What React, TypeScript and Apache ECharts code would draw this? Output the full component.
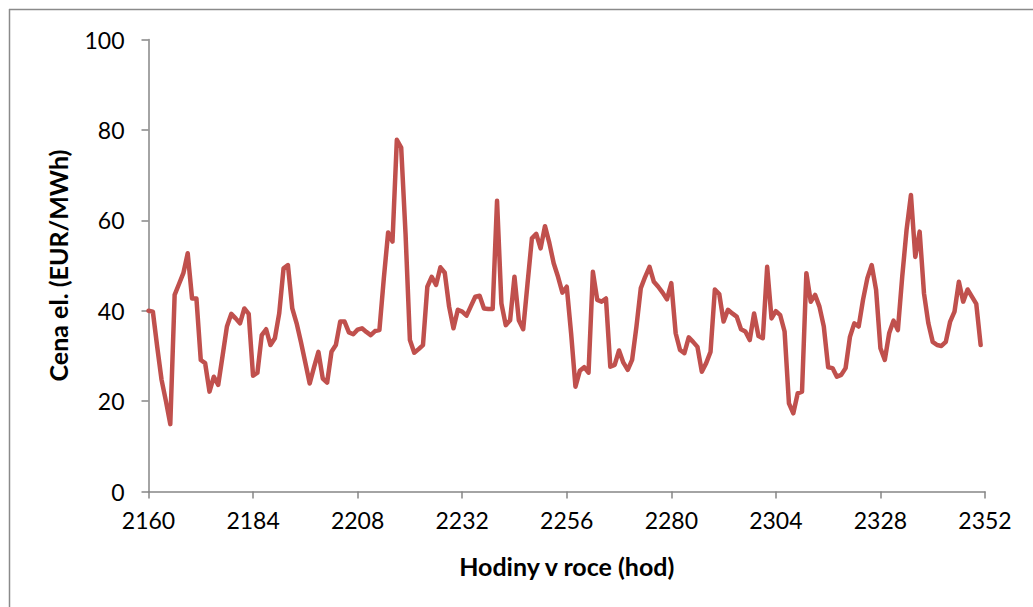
import React, { useEffect, useRef } from "react";
import * as echarts from "echarts";

// Hourly electricity price, hours 2160–2351 of the year (EUR/MWh)
const START_HOUR = 2160;
const prices: number[] = [
  40.0, 39.8, 32.0, 24.7, 20.0, 14.9, 43.5, 45.9, 48.3, 52.7, // 2160
  42.7, 42.7, 29.1, 28.4, 22.1, 25.4, 23.6, 30.0, 36.5, 39.3, // 2170
  38.3, 37.2, 40.5, 39.3, 25.6, 26.3, 34.6, 35.9, 32.4, 33.9, // 2180
  39.4, 49.4, 50.1, 40.5, 37.2, 33.0, 28.5, 23.9, 27.5, 30.9, // 2190
  25.0, 24.1, 30.9, 32.4, 37.6, 37.6, 35.2, 34.8, 35.8, 36.1, // 2200
  35.3, 34.6, 35.5, 35.7, 47.0, 57.3, 55.3, 77.8, 76.1, 57.0, // 2210
  33.5, 30.7, 31.5, 32.4, 45.3, 47.5, 45.7, 49.6, 48.4, 40.9, // 2220
  36.1, 40.2, 39.8, 38.9, 41.0, 43.1, 43.3, 40.5, 40.4, 40.4, // 2230
  64.3, 41.6, 36.8, 37.9, 47.5, 37.9, 35.9, 46.0, 56.0, 57.0, // 2240
  53.8, 58.7, 55.0, 50.5, 47.5, 44.0, 45.3, 35.0, 23.2, 26.7, // 2250
  27.5, 26.3, 48.6, 42.4, 42.0, 42.7, 27.6, 28.0, 31.2, 28.5, // 2260
  26.9, 29.1, 36.5, 45.0, 47.5, 49.7, 46.4, 45.3, 44.0, 42.5, // 2270
  46.1, 35.0, 31.3, 30.6, 34.1, 33.1, 32.0, 26.5, 28.4, 30.9, // 2280
  44.7, 43.7, 37.6, 40.2, 39.4, 38.7, 35.9, 35.4, 33.5, 39.4, // 2290
  34.4, 33.9, 49.7, 38.3, 39.9, 39.0, 35.4, 19.5, 17.3, 21.7, // 2300
  22.1, 48.3, 42.0, 43.5, 40.9, 36.5, 27.5, 27.3, 25.4, 25.8, // 2310
  27.3, 34.2, 37.2, 36.5, 42.4, 47.2, 50.1, 44.6, 31.7, 29.1, // 2320
  35.0, 37.8, 35.7, 47.5, 57.9, 65.6, 51.9, 57.5, 43.8, 37.2, // 2330
  33.1, 32.4, 32.2, 33.1, 37.6, 39.8, 46.4, 42.0, 44.7, 43.1, // 2340
  41.5, 32.4,                                                 // 2350
];

const X_MIN = 2160;
const X_MAX = 2352;
const X_STEP = 24;
const Y_MIN = 0;
const Y_MAX = 100;
const Y_STEP = 20;

const X_TITLE = "Hodiny v roce (hod)";
const Y_TITLE = "Cena el. (EUR/MWh)";

const FONT = "Lato, 'Open Sans', sans-serif";
const AXIS_GRAY = "#868686";
const LINE_RED = "#C0504D";

export default function App() {
  const ref = useRef<HTMLDivElement>(null);

  useEffect(() => {
    if (!ref.current) return;
    const chart = echarts.init(ref.current, undefined, { renderer: "svg" });
    const points = prices.map((v, i) => [START_HOUR + i, v]);

    chart.setOption({
      animation: false,
      backgroundColor: "#ffffff",
      grid: { left: 148.5, right: 48, top: 39.5, bottom: 115.5, containLabel: false },
      xAxis: {
        type: "value",
        min: X_MIN,
        max: X_MAX,
        interval: X_STEP,
        name: X_TITLE,
        nameLocation: "middle",
        nameGap: 62,
        nameTextStyle: { fontFamily: FONT, fontWeight: "bold", fontSize: 25, color: "#000" },
        axisLine: { show: true, lineStyle: { color: AXIS_GRAY, width: 1.5 } },
        axisTick: { show: true, inside: false, length: 7, lineStyle: { color: AXIS_GRAY, width: 1.5 } },
        axisLabel: {
          fontFamily: FONT,
          fontSize: 23,
          color: "#000",
          margin: 17,
          formatter: (v: number) => String(v),
        },
        splitLine: { show: false },
      },
      yAxis: {
        type: "value",
        min: Y_MIN,
        max: Y_MAX,
        interval: Y_STEP,
        name: Y_TITLE,
        nameLocation: "middle",
        nameRotate: 90,
        nameGap: 78,
        nameTextStyle: { fontFamily: FONT, fontWeight: "bold", fontSize: 25, color: "#000" },
        axisLine: { show: true, lineStyle: { color: AXIS_GRAY, width: 1.5 } },
        axisTick: { show: true, inside: false, length: 7, lineStyle: { color: AXIS_GRAY, width: 1.5 } },
        axisLabel: { fontFamily: FONT, fontSize: 23, color: "#000", margin: 24 },
        splitLine: { show: false },
      },
      graphic: [
        {
          type: "line",
          shape: { x1: 9.5, y1: 9, x2: 9.5, y2: 607 },
          style: { stroke: "#8a8a8a", lineWidth: 1.5 },
          silent: true,
        },
        {
          type: "line",
          shape: { x1: 9, y1: 9.5, x2: 1033, y2: 9.5 },
          style: { stroke: "#8a8a8a", lineWidth: 1.5 },
          silent: true,
        },
      ],
      series: [
        {
          type: "line",
          data: points,
          showSymbol: false,
          symbol: "none",
          lineStyle: { color: LINE_RED, width: 4.5, join: "round", cap: "round" },
          itemStyle: { color: LINE_RED },
        },
      ],
    });

    return () => chart.dispose();
  }, []);

  return (
    <div
      ref={ref}
      style={{ position: "fixed", left: 0, top: 0, width: 1033, height: 607, background: "#fff" }}
    />
  );
}
